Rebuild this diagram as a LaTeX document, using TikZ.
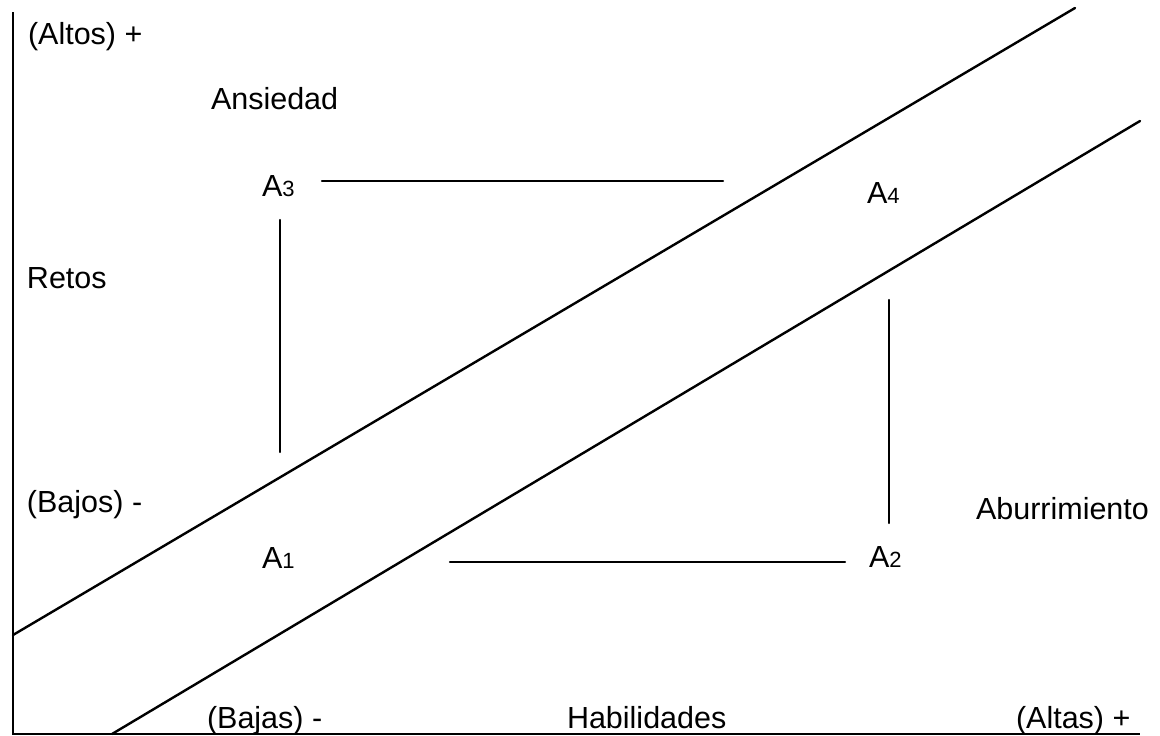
\documentclass[tikz,border=0pt]{standalone}
\usepackage{fontspec}
\setmainfont{Liberation Sans}
\begin{document}
\begin{tikzpicture}[x=1pt,y=-1pt,
  lbl/.style={anchor=base west,inner sep=0pt,outer sep=0pt,font=\fontsize{30.5}{33}\selectfont},
  ln/.style={line width=2.4pt,line cap=round},
  ax/.style={line width=2.8pt}]
\useasboundingbox (0,0) rectangle (1160,736);
% axes
\coordinate (O) at (13,734);
\coordinate (Ytop) at (13,12);
\coordinate (Xend) at (1140,734);
\draw[ax] (Ytop) -- (O) -- (Xend);
% diagonals
\coordinate (U1) at (13,635);
\coordinate (U2) at (1075,8);
\coordinate (L1) at (112,734);
\coordinate (L2) at (1140,121);
\draw[ln] (U1) -- (U2);
\draw[ln] (L1) -- (L2);
% square lines
\coordinate (h3a) at (322,181);
\coordinate (h3b) at (723,181);
\coordinate (v3a) at (280,220);
\coordinate (v3b) at (280,452);
\coordinate (v2a) at (889,300);
\coordinate (v2b) at (889,523);
\coordinate (h1a) at (450,562);
\coordinate (h1b) at (845,562);
\draw[ln] (h3a) -- (h3b);
\draw[ln] (v3a) -- (v3b);
\draw[ln] (v2a) -- (v2b);
\draw[ln] (h1a) -- (h1b);
% labels
\newcommand{\subd}[1]{{\fontsize{22}{22}\selectfont #1}}
\node[lbl] (altos) at (28,44) {(Altos) +};
\node[lbl] (ansiedad) at (211,109) {Ansiedad};
\node[lbl] (a3) at (262,196) {A\subd{3}};
\node[lbl] (a4) at (867,203) {A\subd{4}};
\node[lbl] (retos) at (27,288) {Retos};
\node[lbl] (bajos) at (27,512) {(Bajos) -};
\node[lbl] (abur) at (976,519) {Aburrimiento};
\node[lbl] (a1) at (262,568) {A\subd{1}};
\node[lbl] (a2) at (869,567) {A\subd{2}};
\node[lbl] (bajas) at (207,728) {(Bajas) -};
\node[lbl] (habil) at (567,728) {Habilidades};
\node[lbl] (altas) at (1016,728) {(Altas) +};
\end{tikzpicture}
\end{document}
